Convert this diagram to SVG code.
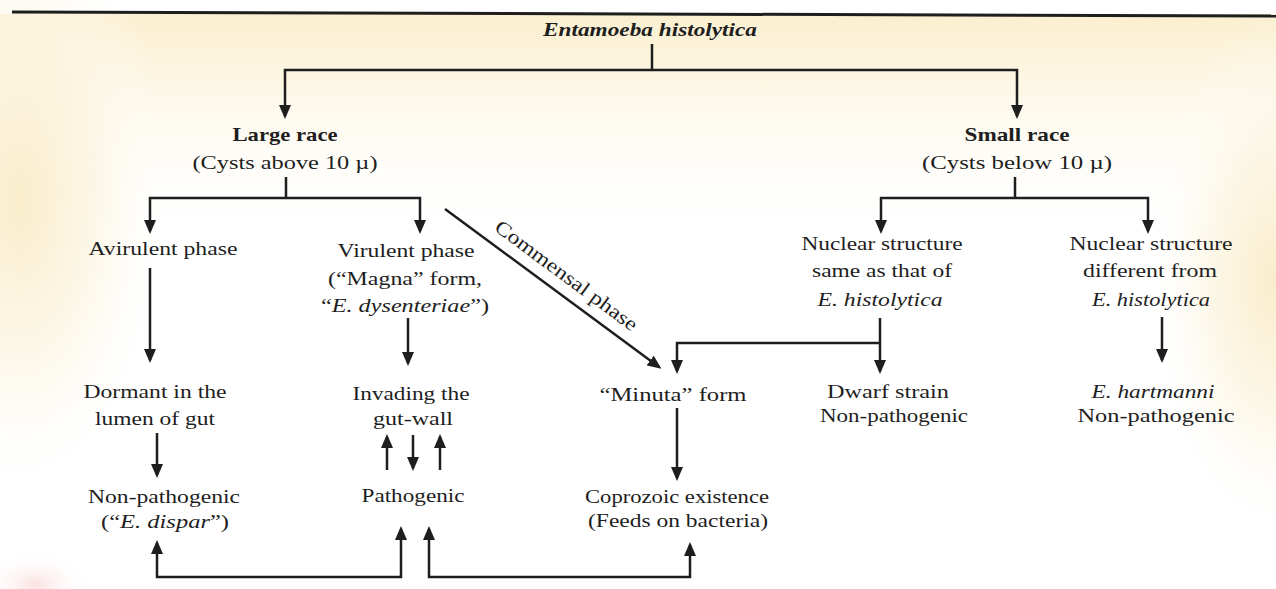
<svg xmlns="http://www.w3.org/2000/svg" width="1276" height="589" viewBox="0 0 1276 589">
<style>
text{font-family:"Liberation Serif","Times New Roman",serif;font-size:19px;fill:#1e1e1e;text-anchor:middle}
.b{font-weight:bold}
.i{font-style:italic}
.bi{font-weight:bold;font-style:italic}
.ln{fill:none;stroke:#1e1e1e;stroke-width:2.5}
.arr{marker-end:url(#ah)}
.arr2{marker-start:url(#ah);marker-end:url(#ah)}
</style>
<defs>
<marker id="ah" markerUnits="userSpaceOnUse" markerWidth="14" markerHeight="12" viewBox="0 0 14 12" refX="11" refY="6" orient="auto-start-reverse">
<path d="M0,0 L14,6 L0,12 z" fill="#1e1e1e"/>
</marker>
<linearGradient id="gTop" x1="0" y1="0" x2="0" y2="1">
<stop offset="0" stop-color="#faefcf"/>
<stop offset="0.12" stop-color="#fcf4dd" stop-opacity="0.8"/>
<stop offset="0.4" stop-color="#ffffff" stop-opacity="0"/>
</linearGradient>
<radialGradient id="gSide" cx="0.5" cy="0.5" r="0.5">
<stop offset="0" stop-color="#f9edcb"/>
<stop offset="0.5" stop-color="#fbf3dc" stop-opacity="0.7"/>
<stop offset="1" stop-color="#ffffff" stop-opacity="0"/>
</radialGradient>
<radialGradient id="gPink" cx="0.5" cy="0.5" r="0.5">
<stop offset="0" stop-color="#fbe1e1"/>
<stop offset="1" stop-color="#ffffff" stop-opacity="0"/>
</radialGradient>
</defs>

<g id="background">
<rect x="0" y="0" width="1276" height="589" fill="#ffffff"/>
<rect x="0" y="14" width="1276" height="575" fill="url(#gTop)"/>
<ellipse cx="20" cy="200" rx="150" ry="300" fill="url(#gSide)"/>
<ellipse cx="1276" cy="280" rx="130" ry="260" fill="url(#gSide)"/>
<ellipse cx="35" cy="585" rx="55" ry="35" fill="url(#gPink)"/>
<path d="M12,12 Q640,13 1276,16" fill="none" stroke="#1e1e1e" stroke-width="3"/>
</g>

<g id="connectors">
<path class="ln" d="M652,44 V70"/>
<path class="ln arr2" d="M285,116 V70 H1017 V116"/>
<path class="ln" d="M286,177 V198"/>
<path class="ln arr2" d="M150,231 V198 H420 V231"/>
<path class="ln" d="M1015,177 V198"/>
<path class="ln arr2" d="M881,231 V198 H1148 V231"/>
<path class="ln arr" d="M150,268 V360"/>
<path class="ln arr" d="M157,433 V475"/>
<path class="ln arr" d="M408,318 V363"/>
<path class="ln arr" d="M387,470 V437"/>
<path class="ln arr" d="M413,435 V468"/>
<path class="ln arr" d="M440,470 V437"/>
<path class="ln arr2" d="M157,543 V577 H401 V529"/>
<path class="ln arr2" d="M690,545 V577 H429 V529"/>
<path class="ln arr" d="M445,209 L659,367"/>
<path class="ln arr" d="M677,408 V478"/>
<path class="ln arr" d="M880,318 V371"/>
<path class="ln arr" d="M880,343 H677 V371"/>
<path class="ln arr" d="M1162,317 V360"/>
<text transform="translate(566,276) rotate(36.5)" x="0" y="6" style="font-size:20px" textLength="172" lengthAdjust="spacingAndGlyphs">Commensal phase</text>
</g>

<g id="root">
<text class="bi" x="650" y="36" textLength="214" lengthAdjust="spacingAndGlyphs">Entamoeba histolytica</text>
</g>
<g id="large-race">
<text class="b" x="285" y="141" textLength="105" lengthAdjust="spacingAndGlyphs">Large race</text>
<text x="285" y="169" textLength="185" lengthAdjust="spacingAndGlyphs">(Cysts above 10 µ)</text>
</g>
<g id="small-race">
<text class="b" x="1017" y="141" textLength="105" lengthAdjust="spacingAndGlyphs">Small race</text>
<text x="1017" y="169" textLength="190" lengthAdjust="spacingAndGlyphs">(Cysts below 10 µ)</text>
</g>
<g id="avirulent">
<text x="163" y="255" textLength="149" lengthAdjust="spacingAndGlyphs">Avirulent phase</text>
</g>
<g id="dormant">
<text x="155" y="398" textLength="143" lengthAdjust="spacingAndGlyphs">Dormant in the</text>
<text x="155" y="425" textLength="120" lengthAdjust="spacingAndGlyphs">lumen of gut</text>
</g>
<g id="non-pathogenic-dispar">
<text x="164" y="503" textLength="152" lengthAdjust="spacingAndGlyphs">Non-pathogenic</text>
<text x="165" y="528" textLength="128" lengthAdjust="spacingAndGlyphs">(“<tspan class="i">E. dispar</tspan>”)</text>
</g>
<g id="virulent">
<text x="406" y="257" textLength="137" lengthAdjust="spacingAndGlyphs">Virulent phase</text>
<text x="405" y="285" textLength="154" lengthAdjust="spacingAndGlyphs">(“Magna” form,</text>
<text x="405" y="312" textLength="168" lengthAdjust="spacingAndGlyphs">“<tspan class="i">E. dysenteriae</tspan>”)</text>
</g>
<g id="invading">
<text x="411" y="400" textLength="117" lengthAdjust="spacingAndGlyphs">Invading the</text>
<text x="413" y="425" textLength="80" lengthAdjust="spacingAndGlyphs">gut-wall</text>
</g>
<g id="pathogenic">
<text x="413" y="502" textLength="103" lengthAdjust="spacingAndGlyphs">Pathogenic</text>
</g>
<g id="minuta">
<text x="673" y="401" textLength="147" lengthAdjust="spacingAndGlyphs">“Minuta” form</text>
</g>
<g id="coprozoic">
<text x="677" y="503" textLength="184" lengthAdjust="spacingAndGlyphs">Coprozoic existence</text>
<text x="678" y="527" textLength="180" lengthAdjust="spacingAndGlyphs">(Feeds on bacteria)</text>
</g>
<g id="nuclear-same">
<text x="882" y="250" textLength="161" lengthAdjust="spacingAndGlyphs">Nuclear structure</text>
<text x="882" y="277" textLength="140" lengthAdjust="spacingAndGlyphs">same as that of</text>
<text class="i" x="880" y="306" textLength="125" lengthAdjust="spacingAndGlyphs">E. histolytica</text>
</g>
<g id="dwarf">
<text x="888" y="398" textLength="122" lengthAdjust="spacingAndGlyphs">Dwarf strain</text>
<text x="894" y="422" textLength="148" lengthAdjust="spacingAndGlyphs">Non-pathogenic</text>
</g>
<g id="nuclear-different">
<text x="1151" y="250" textLength="163" lengthAdjust="spacingAndGlyphs">Nuclear structure</text>
<text x="1150" y="277" textLength="134" lengthAdjust="spacingAndGlyphs">different from</text>
<text class="i" x="1151" y="306" textLength="118" lengthAdjust="spacingAndGlyphs">E. histolytica</text>
</g>
<g id="hartmanni">
<text class="i" x="1153" y="398" textLength="123" lengthAdjust="spacingAndGlyphs">E. hartmanni</text>
<text x="1156" y="422" textLength="157" lengthAdjust="spacingAndGlyphs">Non-pathogenic</text>
</g>
</svg>
